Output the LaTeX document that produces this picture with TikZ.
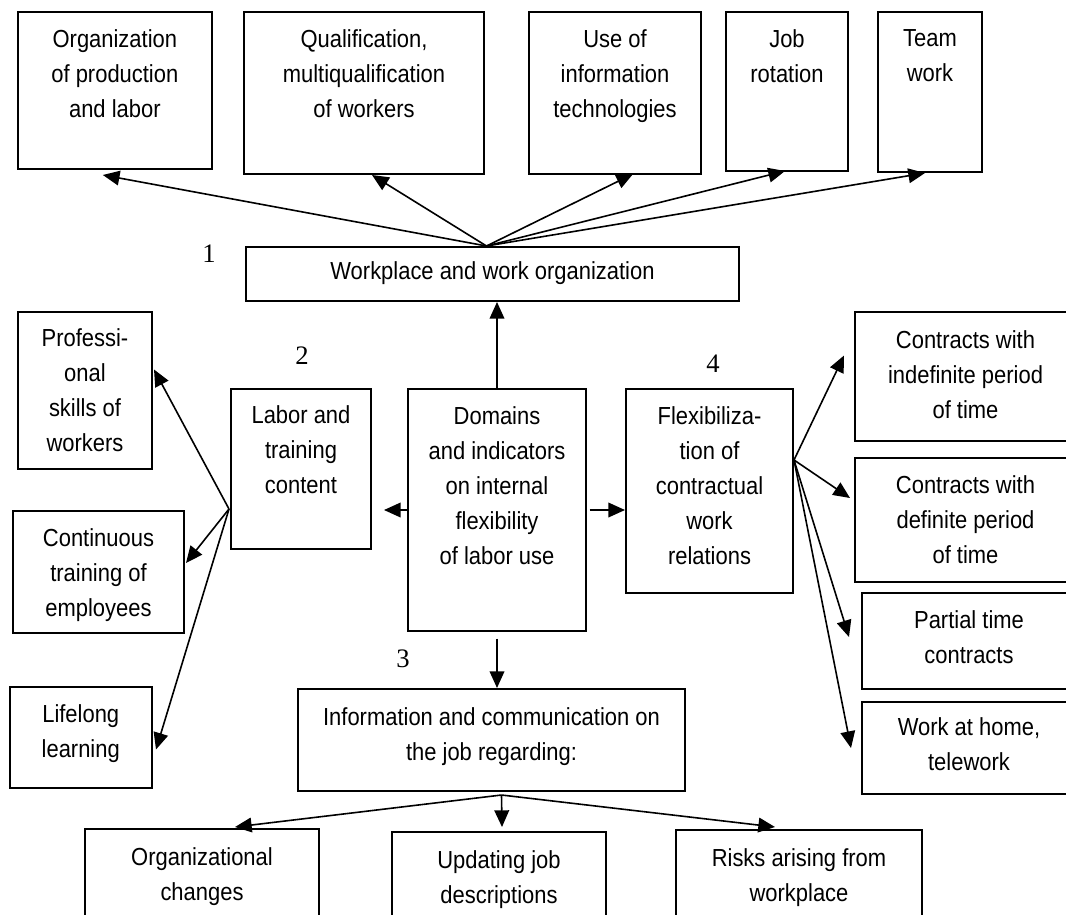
\documentclass[tikz,border=0pt]{standalone}
\usepackage{fontspec}
\setmainfont{Liberation Sans}[FakeStretch=0.89]
\newfontfamily\numfont{Liberation Serif}
\usetikzlibrary{arrows.meta,fit,calc}
\begin{document}
\begin{tikzpicture}[x=0.75pt,y=-0.75pt,
  box/.style={draw, line width=1.5pt, inner sep=0pt},
  bigfont/.style={font=\fontsize{18.5}{26.25}\selectfont},
  txt/.style={bigfont, align=center, inner sep=0pt, anchor=north},
  arr/.style={line width=1.2pt, -{Triangle[length=12.5pt,width=11pt]}},
  num/.style={font=\numfont\fontsize{20}{24}\selectfont, inner sep=0pt}]
\clip (0,0) rectangle (1066,914);

% top row
\node[box, fit={(17.7,12) (212,169)}] (A) {};
\node[txt] (tA) at ($(A.north)+(0,18)$) {Organization\\of production\\and labor};
\node[box, fit={(244,12) (484,174)}] (B) {};
\node[txt] (tB) at ($(B.north)+(0,18)$) {Qualification,\\multiqualification\\of workers};
\node[box, fit={(529,12) (701,174)}] (C) {};
\node[txt] (tC) at ($(C.north)+(0,18)$) {Use of\\information\\technologies};
\node[box, fit={(726,12) (848,171)}] (D) {};
\node[txt] (tD) at ($(D.north)+(0,18)$) {Job\\rotation};
\node[box, fit={(878,12) (982,172)}] (E) {};
\node[txt] (tE) at ($(E.north)+(0,18)$) {Team\\work};

\node[box, fit={(246,247) (739,301)}] (wp) {};
\node[bigfont, inner sep=0pt] (twp) at ($(wp.center)+(0,-1)$) {Workplace and work organization};

% left column
\node[box, fit={(18,312) (152,469)}] (prof) {};
\node[txt] (tprof) at ($(prof.north)+(0,17)$) {Professi-\\onal\\skills of\\workers};
\node[box, fit={(13,511) (184,633)}] (cont) {};
\node[txt] (tcont) at ($(cont.north)+(0,18)$) {Continuous\\training of\\employees};
\node[box, fit={(9.5,687) (152,788)}] (life) {};
\node[txt] (tlife) at ($(life.north)+(0,18)$) {Lifelong\\learning};

% middle
\node[box, fit={(231,389) (371,549)}] (lab) {};
\node[txt] (tlab) at ($(lab.north)+(0,17)$) {Labor and\\training\\content};
\node[box, fit={(408,389) (586,631)}] (dom) {};
\node[txt] (tdom) at ($(dom.north)+(0,18)$) {Domains\\and indicators\\on internal\\flexibility\\of labor use};
\node[box, fit={(626,389) (793,593)}] (flex) {};
\node[txt] (tflex) at ($(flex.north)+(0,18)$) {Flexibiliza-\\tion of\\contractual\\work\\relations};

% right column
\node[box, fit={(855,312) (1076,441)}] (ind) {};
\node[txt] (tind) at ($(ind.north)+(0,19)$) {Contracts with\\indefinite period\\of time};
\node[box, fit={(855,458) (1076,582)}] (def) {};
\node[txt] (tdef) at ($(def.north)+(0,18)$) {Contracts with\\definite period\\of time};
\node[box, fit={(862,593) (1076,689)}] (par) {};
\node[txt] (tpar) at ($(par.north)+(0,18)$) {Partial time\\contracts};
\node[box, fit={(862,702) (1076,794)}] (wah) {};
\node[txt] (twah) at ($(wah.north)+(0,16)$) {Work at home,\\telework};

% bottom
\node[box, fit={(298,689) (685,791)}] (info) {};
\node[txt] (tinfo) at ($(info.north)+(0,19)$) {Information and communication on\\the job regarding:};
\node[box, fit={(85,829) (319,930)}] (org) {};
\node[txt] (torg) at ($(org.north)+(0,19)$) {Organizational\\changes};
\node[box, fit={(392,832) (606,930)}] (upd) {};
\node[txt] (tupd) at ($(upd.north)+(0,19)$) {Updating job\\descriptions};
\node[box, fit={(676,830) (922,930)}] (risk) {};
\node[txt] (trisk) at ($(risk.north)+(0,19)$) {Risks arising from\\workplace};

% numbers
\node[num] (n1) at (209,254) {1};
\node[num] (n2) at (302,356) {2};
\node[num] (n3) at (403,659) {3};
\node[num] (n4) at (713,364) {4};

% arrows from workplace
\coordinate (wpt) at ($(wp.north)+(-6,0)$);
\draw[arr] (wpt) -- ($(A.south)+(-12,5)$);
\draw[arr] (wpt) -- ($(B.south)+(8,0)$);
\draw[arr] (wpt) -- ($(C.south)+(18,-1)$);
\draw[arr] (wpt) -- ($(D.south)+(-2,-1)$);
\draw[arr] (wpt) -- ($(E.south)+(-5,0)$);

% arrows from domains
\draw[arr] (dom.north) -- (dom.north |- wp.south);
\draw[arr, shorten >=9pt] (dom.west) -- (dom.west -| lab.east);
\draw[arr, shorten <=2pt] (dom.east) -- (dom.east -| flex.west);
\draw[arr, shorten <=5pt] (dom.south) -- (dom.south |- info.north);

% arrows from info
\coordinate (ib) at ($(info.south)+(10,3)$);
\draw[arr] (ib) -- ($(org.north)+(33,-1)$);
\draw[arr] (ib) -- ($(upd.north)+(3,-4)$);
\draw[arr] (ib) -- ($(risk.north)+(-24,-2)$);

% arrows from labor
\coordinate (lp) at ($(lab.south west)+(-1,-41)$);
\draw[arr] (lp) -- ($(prof.east)+(1,-21)$);
\draw[arr] (lp) -- ($(cont.east)+(1,-9)$);
\draw[arr] (lp) -- ($(life.east)+(3,12)$);

% arrows from flexibilization
\coordinate (fp) at ($(flex.east)+(0,-31)$);
\draw[arr] (fp) -- ($(ind.west)+(-10,-21)$);
\draw[arr] (fp) -- ($(def.west)+(-4,-22)$);
\draw[arr] (fp) -- ($(par.west)+(-12,-4)$);
\draw[arr] (fp) -- ($(wah.west)+(-10,0)$);
\end{tikzpicture}
\end{document}
